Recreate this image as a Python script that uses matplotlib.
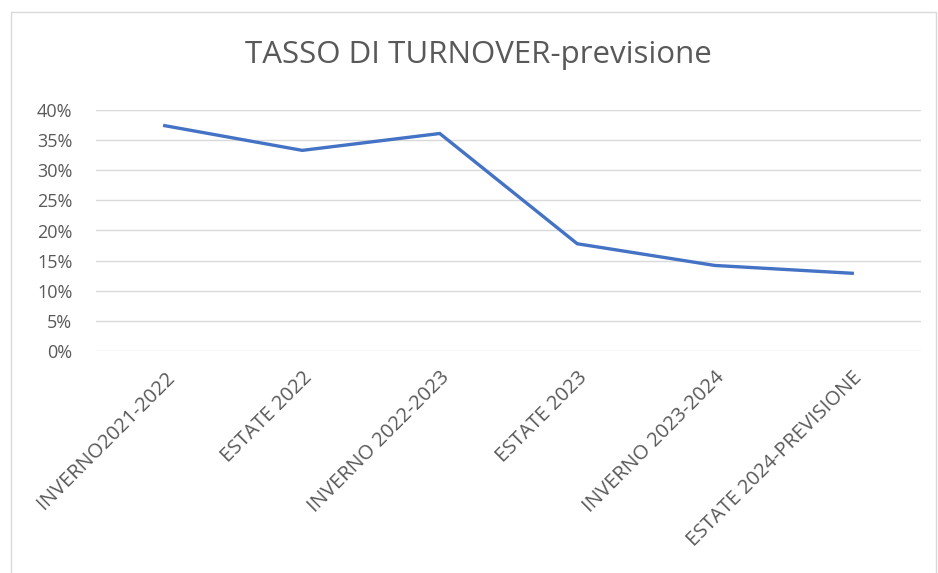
import matplotlib
matplotlib.use("Agg")
import matplotlib.pyplot as plt
from matplotlib.patches import Rectangle
from matplotlib.ticker import FuncFormatter, MultipleLocator

categories = ["INVERNO2021-2022", "ESTATE 2022", "INVERNO 2022-2023",
              "ESTATE 2023", "INVERNO 2023-2024", "ESTATE 2024-PREVISIONE"]
values = [0.374, 0.333, 0.361, 0.178, 0.142, 0.129]
title = "TASSO DI TURNOVER-previsione"

plt.rcParams['font.family'] = ['Open Sans', 'DejaVu Sans']

fig = plt.figure(figsize=(9.38, 5.73), dpi=100)
W, H = 938, 573
ax = fig.add_axes([96 / W, 222 / H, (921 - 96) / W, (351 - 110) / H])

x = list(range(len(categories)))
ax.plot(x, values, color="#4472C4", linewidth=2.4, solid_joinstyle="miter")
ax.set_xlim(-0.5, len(categories) - 0.5)
ax.set_ylim(0, 0.40)
ax.yaxis.set_major_locator(MultipleLocator(0.05))
ax.yaxis.set_major_formatter(FuncFormatter(lambda v, p: f"{round(v * 100)}%"))
ax.grid(axis="y", color="#D9D9D9", linewidth=1.0)
ax.set_axisbelow(True)
for s in ax.spines.values():
    s.set_visible(False)
ax.tick_params(axis="both", length=0, colors="#595959")
ax.tick_params(axis="y", pad=17, labelsize=13)
ax.set_xticks(x)
ax.set_xticklabels(categories, rotation=45, ha="right", rotation_mode="anchor")
ax.tick_params(axis="x", pad=12, labelsize=14.5)

fig.text(478 / W, 1 - 55 / H, title, ha="center", va="center",
         fontsize=22.5, color="#595959")

fig.patches.append(Rectangle((11 / W, -0.01), (936 - 11) / W, 1 - 12 / H + 0.01,
                             transform=fig.transFigure, fill=False,
                             edgecolor="#D9D9D9", linewidth=1.0))

fig.savefig("out.png", dpi=100, facecolor="white")
